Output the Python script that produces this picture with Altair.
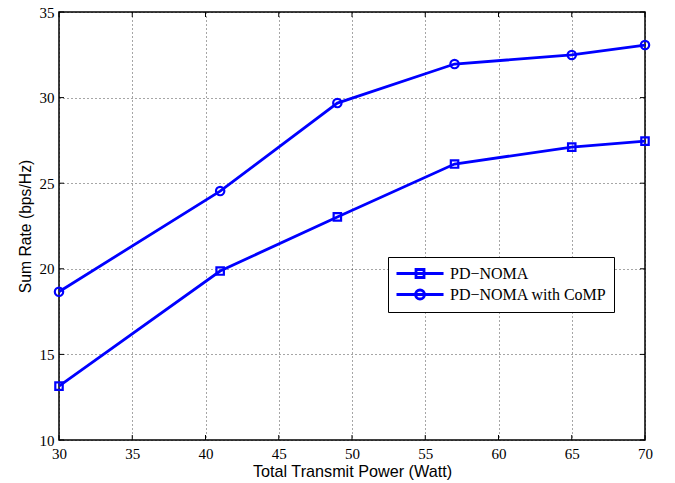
import altair as alt
import pandas as pd

power = [30, 41, 49, 57, 65, 70]
pd_noma = [13.15, 19.87, 23.03, 26.12, 27.11, 27.46]
pd_noma_comp = [18.66, 24.54, 29.68, 31.96, 32.49, 33.07]
series_names = ["PD\u2212NOMA", "PD\u2212NOMA with CoMP"]
x_ticks = [30, 35, 40, 45, 50, 55, 60, 65, 70]
y_ticks = [10, 15, 20, 25, 30, 35]

rows = []
for name, vals in zip(series_names, [pd_noma, pd_noma_comp]):
    for p, v in zip(power, vals):
        rows.append({"power": p, "rate": v, "series": name})
df = pd.DataFrame(rows)

W, H = 586, 428
BLUE = "#0000ff"

xs = alt.Scale(domain=[30, 70], nice=False, zero=False)
ys = alt.Scale(domain=[10, 35], nice=False, zero=False)

x_axis = alt.Axis(values=x_ticks, grid=True, gridDash=[1, 3], gridColor="#000", gridOpacity=0.7,
                  ticks=False, domain=False, labelFont="Liberation Serif", labelFontSize=15,
                  labelColor="#000", labelPadding=6, title="Total Transmit Power (Watt)",
                  titleFont="Liberation Sans", titleFontSize=16.2, titleFontWeight="normal",
                  titleColor="#000", titlePadding=2, labelFlush=False)
y_axis = alt.Axis(values=y_ticks, grid=True, gridDash=[1, 3], gridColor="#000", gridOpacity=0.7,
                  ticks=False, domain=False, labelFont="Liberation Serif", labelFontSize=15,
                  labelColor="#000", labelPadding=5, title="Sum Rate (bps/Hz)",
                  titleFont="Liberation Sans", titleFontSize=15.7, titleFontWeight="normal",
                  titleColor="#000", titlePadding=6, labelFlush=False)

base = alt.Chart(df)

lines = base.mark_line(color=BLUE, strokeWidth=2.8).encode(
    x=alt.X("power:Q", scale=xs, axis=x_axis),
    y=alt.Y("rate:Q", scale=ys, axis=y_axis),
    detail="series:N",
)

squares = base.transform_filter(alt.datum.series == series_names[0]).mark_point(
    shape="square", color=BLUE, filled=False, size=55, strokeWidth=2.2, opacity=1
).encode(x=alt.X("power:Q", scale=xs), y=alt.Y("rate:Q", scale=ys))

circles = base.transform_filter(alt.datum.series == series_names[1]).mark_point(
    shape="circle", color=BLUE, filled=False, size=70, strokeWidth=2.2, opacity=1
).encode(x=alt.X("power:Q", scale=xs), y=alt.Y("rate:Q", scale=ys))

# legend symbols: a line with the marker in the middle (unit = 8 px)
sq_path = "M-1,0H4.88M1.44,-0.5H2.44V0.5H1.44Z"
ci_path = "M-1,0H4.88M2.5,0A0.56,0.56,0,1,1,1.38,0A0.56,0.56,0,1,1,2.5,0Z"

legend_layer = base.transform_filter("false").mark_point(
    color=BLUE, filled=False, strokeWidth=2.8, opacity=1
).encode(
    x=alt.X("power:Q", scale=xs),
    y=alt.Y("rate:Q", scale=ys),
    shape=alt.Shape("series:N",
                    scale=alt.Scale(domain=series_names, range=[sq_path, ci_path]),
                    legend=alt.Legend(title=None, orient="none", legendX=329, legendY=245,
                                      symbolSize=256, symbolStrokeWidth=2.8,
                                      symbolStrokeColor=BLUE, symbolFillColor="transparent",
                                      labelFont="Liberation Serif", labelFontSize=16,
                                      labelColor="#000", labelOffset=36,
                                      strokeColor="#000", fillColor="#fff", padding=7,
                                      rowPadding=0, labelLimit=300)),
)

# inward tick marks on all four sides
xt = pd.DataFrame({"v": x_ticks})
yt = pd.DataFrame({"v": y_ticks})
tb = alt.Chart(xt).mark_rule(color="#000", strokeWidth=1).encode(
    x=alt.X("v:Q", scale=xs), y=alt.value(H), y2=alt.value(H - 5))
tt = alt.Chart(xt).mark_rule(color="#000", strokeWidth=1).encode(
    x=alt.X("v:Q", scale=xs), y=alt.value(0), y2=alt.value(5))
tl = alt.Chart(yt).mark_rule(color="#000", strokeWidth=1).encode(
    y=alt.Y("v:Q", scale=ys), x=alt.value(0), x2=alt.value(5))
tr = alt.Chart(yt).mark_rule(color="#000", strokeWidth=1).encode(
    y=alt.Y("v:Q", scale=ys), x=alt.value(W), x2=alt.value(W - 5))

chart = alt.layer(tb, tt, tl, tr, lines, squares, circles, legend_layer).resolve_scale(
    shape="independent"
).properties(
    width=W, height=H,
    autosize=alt.AutoSizeParams(type="none"),
    padding={"left": 59, "top": 12, "right": 30, "bottom": 43},
    background="#fff",
).configure_view(stroke="#000", strokeWidth=1.5)

chart.save("out.html", embed_options={"renderer": "svg", "actions": False})
